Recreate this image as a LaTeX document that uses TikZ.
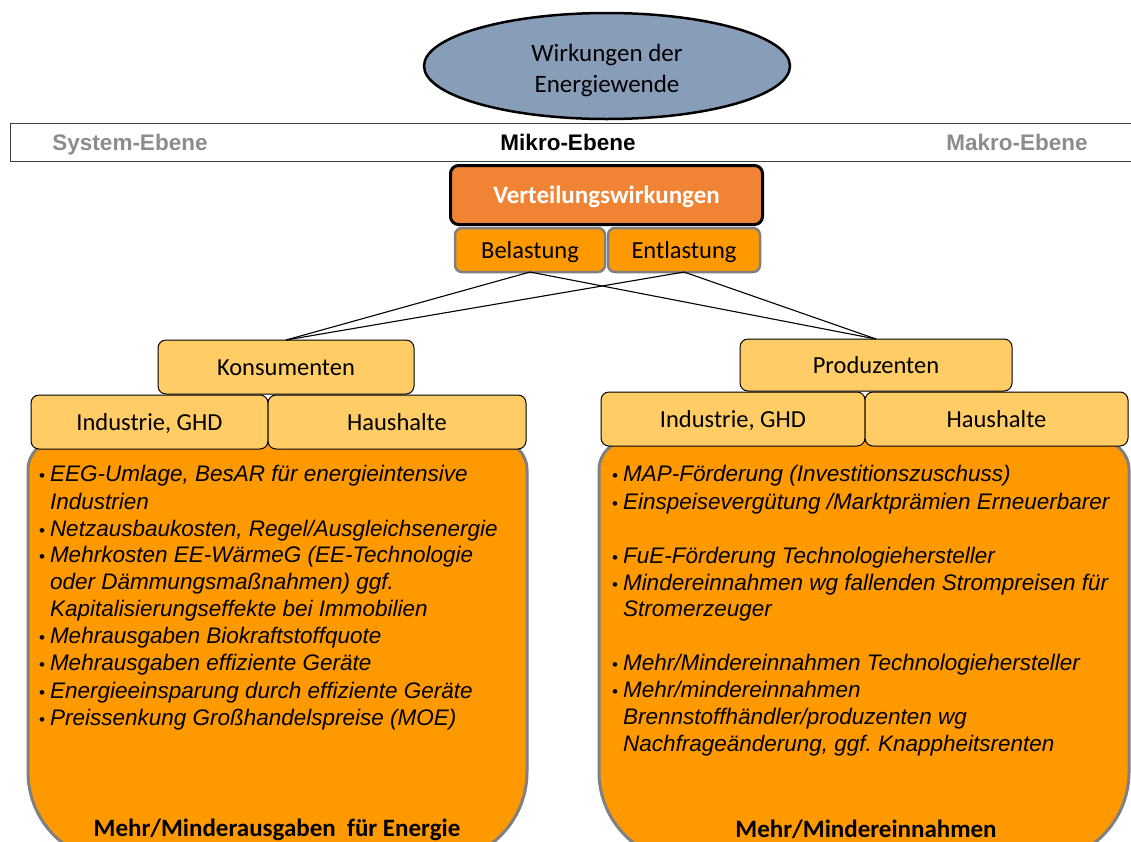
\documentclass[tikz,border=0pt]{standalone}
\usepackage{fontspec}
\setmainfont{Carlito}
\newfontfamily\arialf{Liberation Sans}
\usetikzlibrary{shapes.geometric}
\frenchspacing
\definecolor{ellblue}{RGB}{136,158,184}
\definecolor{vorange}{RGB}{240,132,52}
\definecolor{borange}{RGB}{255,153,0}
\definecolor{lorange}{RGB}{255,204,102}
\definecolor{bordergray}{RGB}{128,128,128}
\definecolor{labelgray}{RGB}{140,140,140}
\newcommand{\bul}{\makebox[11pt][l]{\upshape\fontsize{17}{20}\selectfont\textbullet}}
\begin{document}
\begin{tikzpicture}[x=1pt,y=-1pt,
  every node/.style={outer sep=0pt},
  calfont/.style={font=\fontsize{24.5}{30}\selectfont, text height=16pt, text depth=0pt},
  lbox/.style={draw=black, line width=1pt, fill=lorange, rounded corners=8pt, calfont, inner sep=0pt},
  obox/.style={draw=bordergray, line width=2.5pt, fill=borange, rounded corners=7pt, calfont, inner sep=0pt},
  bigbox/.style={draw=bordergray, line width=3pt, fill=borange},
  conn/.style={draw=black, line width=1.1pt},
  ebene/.style={font=\arialf\bfseries\fontsize{22.5}{26}\selectfont, inner sep=0pt, text height=16pt, text depth=0pt},
  item/.style={anchor=base west, inner sep=0pt, font=\arialf\itshape\fontsize{22.5}{27}\selectfont},
  summary/.style={anchor=base, inner sep=0pt, font=\bfseries\fontsize{25}{30}\selectfont}
]
\useasboundingbox (0,0) rectangle (1131,841);

% title ellipse
\node[ellipse, draw=black, line width=2.5pt, fill=ellblue, minimum width=366pt, minimum height=106pt, inner sep=0pt] (wirk) at (607,66) {};
\node[align=center, font=\fontsize{25}{31}\selectfont, inner sep=0pt] (wirktxt) at (607,70) {Wirkungen der\\Energiewende};

% level band
\node[draw=black!75, line width=1pt, minimum width=1130pt, minimum height=38pt, anchor=north west, inner sep=0pt] (band) at (10,123) {};
\node[ebene, text=labelgray] (sys) at (130,142) {System-Ebene};
\node[ebene, text=black] (mik) at (568,142) {Mikro-Ebene};
\node[ebene, text=labelgray] (mak) at (1017,142) {Makro-Ebene};

% distribution effects
\node[draw=black, line width=3pt, fill=vorange, rounded corners=8pt, minimum width=312pt, minimum height=59pt,
      text=white, font=\bfseries\fontsize{25}{30}\selectfont, inner sep=0pt, text height=16pt, text depth=0pt] (vert) at (606.5,195) {Verteilungswirkungen};
\node[obox, minimum width=150pt, minimum height=44pt] (bel) at (530,250) {Belastung};
\node[obox, minimum width=152pt, minimum height=44pt] (ent) at (684,250) {Entlastung};

% big boxes
\draw[bigbox] (28,600) [rounded corners=30pt] -- (28,440) -- (527,440) -- (527,600) [rounded corners=90pt] -- (527,862) -- (28,862) -- cycle;
\draw[bigbox] (599,600) [rounded corners=30pt] -- (599,440) -- (1129,440) -- (1129,600) [rounded corners=90pt] -- (1129,862) -- (599,862) -- cycle;

% group boxes
\node[lbox, minimum width=256pt, minimum height=54pt] (kons) at (286,367) {Konsumenten};
\node[lbox, minimum width=237pt, minimum height=54pt] (kind) at (149.5,422) {Industrie, GHD};
\node[lbox, minimum width=258pt, minimum height=54pt] (khh) at (397,422) {Haushalte};
\node[lbox, minimum width=272pt, minimum height=52pt] (prod) at (876,365) {Produzenten};
\node[lbox, minimum width=264pt, minimum height=54pt] (pind) at (733,419) {Industrie, GHD};
\node[lbox, minimum width=263pt, minimum height=54pt] (phh) at (996.5,419) {Haushalte};

% connectors
\draw[conn] (bel.south) -- (kons.north);
\draw[conn] (bel.south) -- (prod.north);
\draw[conn] (ent.south) -- (kons.north);
\draw[conn] (ent.south) -- (prod.north);

% left list
\node[item] (l1) at (39,481) {\bul EEG-Umlage, BesAR für energieintensive};
\node[item] (l2) at (50,509) {Industrien};
\node[item] (l3) at (39,536) {\bul Netzausbaukosten, Regel/Ausgleichsenergie};
\node[item] (l4) at (39,562) {\bul Mehrkosten EE-WärmeG (EE-Technologie};
\node[item] (l5) at (50,589) {oder Dämmungsmaßnahmen) ggf.};
\node[item] (l6) at (50,616) {Kapitalisierungseffekte bei Immobilien};
\node[item] (l7) at (39,643) {\bul Mehrausgaben Biokraftstoffquote};
\node[item] (l8) at (39,670) {\bul Mehrausgaben effiziente Geräte};
\node[item] (l9) at (39,698) {\bul Energieeinsparung durch effiziente Geräte};
\node[item] (l10) at (39,725) {\bul Preissenkung Großhandelspreise (MOE)};
\node[summary] (lsum) at (277,836) {Mehr/Minderausgaben~ für Energie};

% right list
\node[item] (r1) at (612,481) {\bul MAP-Förderung (Investitionszuschuss)};
\node[item] (r2) at (612,509) {\bul Einspeisevergütung /Marktprämien Erneuerbarer};
\node[item] (r3) at (612,563) {\bul FuE-Förderung Technologiehersteller};
\node[item] (r4) at (612,590) {\bul Mindereinnahmen wg fallenden Strompreisen für};
\node[item] (r5) at (623,616) {Stromerzeuger};
\node[item] (r6) at (612,670) {\bul Mehr/Mindereinnahmen Technologiehersteller};
\node[item] (r7) at (612,697) {\bul Mehr/mindereinnahmen};
\node[item] (r8) at (623,724) {Brennstoffhändler/produzenten wg};
\node[item] (r9) at (623,751) {Nachfrageänderung, ggf.\ Knappheitsrenten};
\node[summary] (rsum) at (866,837) {Mehr/Mindereinnahmen};
\end{tikzpicture}
\end{document}
